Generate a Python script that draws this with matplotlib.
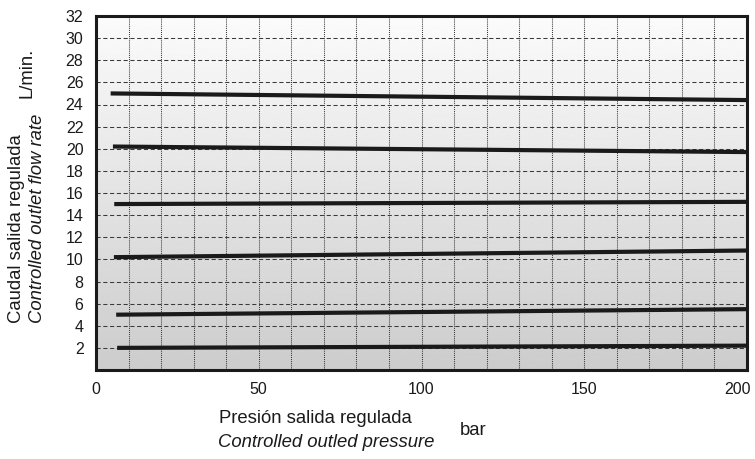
import numpy as np
import matplotlib.pyplot as plt
from matplotlib.transforms import ScaledTranslation

plt.rcParams['font.family'] = ['Liberation Sans', 'DejaVu Sans']

# Regulated outlet flow curves (start / end points)
pressure_start = [4.5, 5.2, 5.6, 5.5, 6.2, 6.5]
pressure_end = [200, 200, 200, 200, 200, 200]
flow_start = [25.0, 20.2, 15.0, 10.2, 5.0, 2.0]
flow_end = [24.4, 19.7, 15.2, 10.8, 5.5, 2.2]

x_ticks = [0, 50, 100, 150, 200]
y_ticks = list(range(2, 33, 2))

fig = plt.figure(figsize=(7.55, 4.59), dpi=100)
W, H = 755, 459
ax = fig.add_axes([96 / W, 1 - 370 / H, (747 - 96) / W, (370 - 16) / H])
ax.set_xlim(0, 200)
ax.set_ylim(0, 32)

# vertical gradient background, light on top to grey at bottom
grad = np.linspace(0.80, 0.985, 256).reshape(-1, 1)
ax.imshow(grad, cmap='gray', vmin=0, vmax=1, aspect='auto', origin='lower',
          extent=[0, 200, 0, 32], zorder=0)

for y in y_ticks:
    ax.axhline(y, color='#3a3a3a', lw=0.75, ls=(0, (4, 2.5)), zorder=1)
for x in range(10, 200, 10):
    ax.axvline(x, color='#3a3a3a', lw=0.75, ls=(0, (1, 1)), zorder=1)

for x0, x1, y0, y1 in zip(pressure_start, pressure_end, flow_start, flow_end):
    ax.plot([x0, x1], [y0, y1], color='#1a1a1a', lw=3, solid_capstyle='butt', zorder=3)

ax.set_xticks(x_ticks)
ax.set_yticks(y_ticks)
ax.tick_params(axis='both', length=0, labelsize=11.5, colors='#1a1a1a')
ax.tick_params(axis='y', pad=9)
ax.tick_params(axis='x', pad=9)
for s in ax.spines.values():
    s.set_linewidth(2.2)
    s.set_color('#1a1a1a')

# keep the last x label inside the figure, as in the original
last = ax.get_xticklabels()[-1]
last.set_ha('right')
last.set_transform(last.get_transform() + ScaledTranslation(4 / 100, 0, fig.dpi_scale_trans))

fig.text(17 / W, 1 - 323 / H, 'Caudal salida regulada', rotation=90,
         ha='center', va='bottom', fontsize=13.3, color='#1a1a1a')
fig.text(38 / W, 1 - 323 / H, 'Controlled outlet flow rate', rotation=90,
         ha='center', va='bottom', fontsize=13.3, style='italic', color='#1a1a1a')
fig.text(27 / W, 1 - 98 / H, 'L/min.', rotation=90,
         ha='center', va='bottom', fontsize=13.3, color='#1a1a1a')

fig.text(219 / W, 1 - 423 / H, 'Presión salida regulada', ha='left', va='baseline',
         fontsize=13.3, color='#1a1a1a')
fig.text(218 / W, 1 - 447 / H, 'Controlled outled pressure', ha='left', va='baseline',
         fontsize=13.3, style='italic', color='#1a1a1a')
fig.text(460 / W, 1 - 435 / H, 'bar', ha='left', va='baseline',
         fontsize=13.3, color='#1a1a1a')

fig.savefig('out.png', dpi=100)
